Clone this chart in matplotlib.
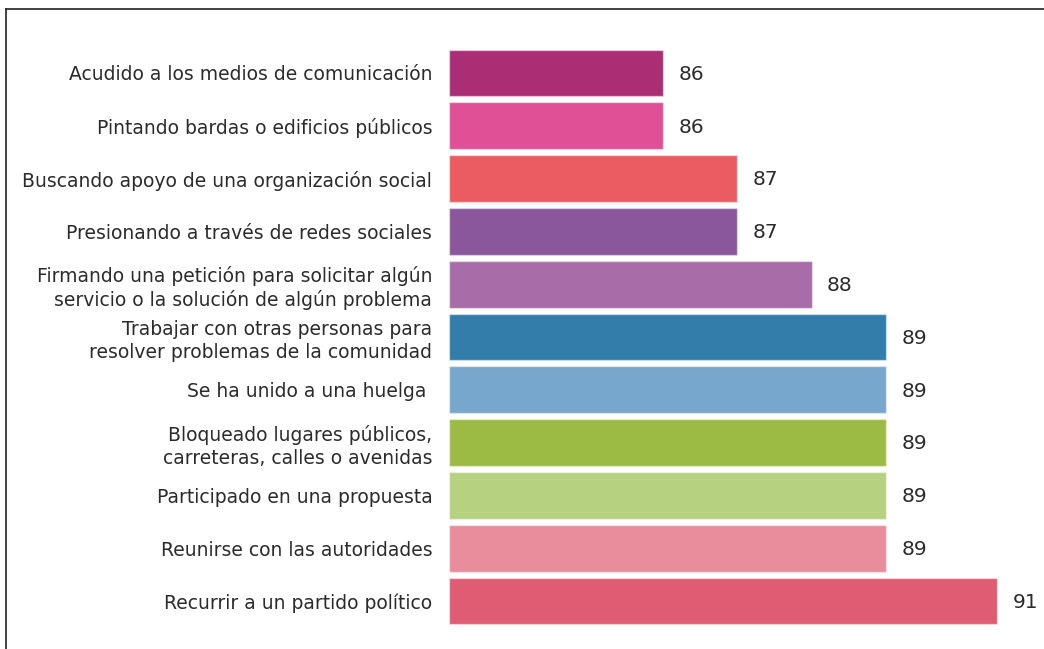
import matplotlib
matplotlib.use("Agg")
import matplotlib.pyplot as plt
from matplotlib.lines import Line2D

categories = [
    "Acudido a los medios de comunicación",
    "Pintando bardas o edificios públicos",
    "Buscando apoyo de una organización social",
    "Presionando a través de redes sociales",
    "Firmando una petición para solicitar algún\nservicio o la solución de algún problema",
    "Trabajar con otras personas para\nresolver problemas de la comunidad",
    "Se ha unido a una huelga ",
    "Bloqueado lugares públicos,\ncarreteras, calles o avenidas",
    "Participado en una propuesta",
    "Reunirse con las autoridades",
    "Recurrir a un partido político",
]
values = [86, 86, 87, 87, 88, 89, 89, 89, 89, 89, 90.5]
value_labels = ["86", "86", "87", "87", "88", "89", "89", "89", "89", "89", "91"]
colors = ["#AB2D74", "#E05096", "#EB5C62", "#8B579C", "#A86CA8", "#337DAA",
          "#77A7CD", "#9BBB45", "#B6D280", "#E98D9D", "#E05C73"]

plt.rcParams['font.family'] = ['DejaVu Sans']
W, H = 1044, 649
fig = plt.figure(figsize=(W / 100, H / 100), dpi=100)

left_px, top_px, bottom_px = 449, 46.6, 627.4
ax = fig.add_axes([left_px / W, 1 - bottom_px / H, 1 - left_px / W, (bottom_px - top_px) / H])

base = 83.12
ypos = list(range(len(categories)))
ax.barh(ypos, [v - base for v in values], left=base, height=0.89, color=colors,
        edgecolor=(1, 1, 1, 0.45), linewidth=1.0)

for y, v, lab in zip(ypos, values, value_labels):
    ax.annotate(lab, xy=(v, y), xytext=(11, -1), textcoords="offset points",
                ha="left", va="center", fontsize=14.5, color="#2b2b2b")

ax.set_xlim(base, base + (W - left_px) / 74.3)
ax.set_ylim(len(categories) - 0.5, -0.5)
ax.set_yticks(ypos)
ax.set_yticklabels(categories, fontsize=13.5, color="#2b2b2b", linespacing=1.25)
ax.tick_params(axis="y", length=0, pad=12)
ax.set_xticks([])
for s in ax.spines.values():
    s.set_visible(False)

# outer frame (top and left lines)
fig.add_artist(Line2D([6 / W, 1.0], [1 - 9 / H, 1 - 9 / H], transform=fig.transFigure,
                      color="#222222", linewidth=1.2))
fig.add_artist(Line2D([6 / W, 6 / W], [1 - 9 / H, 0.0], transform=fig.transFigure,
                      color="#222222", linewidth=1.2))

fig.savefig("out.png", dpi=100)
